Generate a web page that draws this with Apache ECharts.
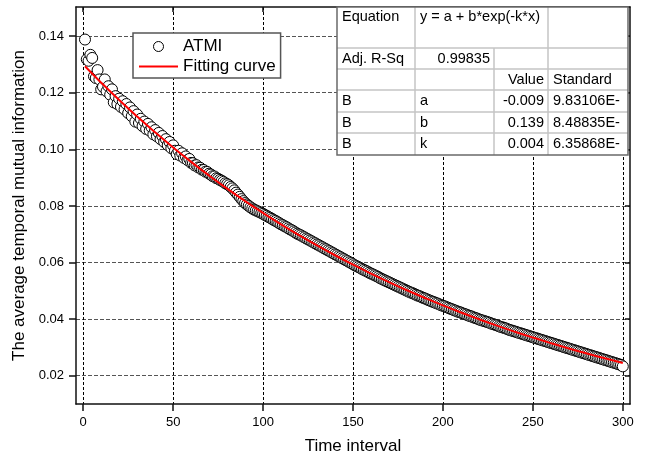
<!DOCTYPE html>
<html>
<head>
<meta charset="utf-8">
<script src="https://cdn.jsdelivr.net/npm/echarts@6/dist/echarts.min.js"></script>
<style>
  html, body { margin: 0; padding: 0; background: #fff; }
  #chart { width: 649px; height: 460px; }
</style>
</head>
<body>
<div id="chart"></div>
<script>
// Average temporal mutual information per time lag (lags 1..300)
const atmi = [
  0.1388,0.1318,0.1313,0.1334,0.1323,0.1258,0.1252,0.1280,0.1247,0.1212,
  0.1221,0.1247,0.1205,0.1223,0.1193,0.1212,0.1166,0.1188,0.1160,0.1179,
  0.1150,0.1170,0.1141,0.1160,0.1128,0.1148,0.1117,0.1135,0.1098,0.1123,
  0.1093,0.1108,0.1082,0.1098,0.1072,0.1090,0.1066,0.1078,0.1053,0.1068,
  0.1046,0.1058,0.1036,0.1047,0.1026,0.1036,0.1015,0.1026,0.1004,0.1014,
  0.0995,0.0983,0.0995,0.0978,0.0986,0.0970,0.0975,0.0962,0.0966,0.0952,
  0.0951,0.0943,0.0944,0.0936,0.0935,0.0928,0.0927,0.0921,0.0920,0.0914,
  0.0911,0.0905,0.0904,0.0898,0.0896,0.0892,0.0889,0.0885,0.0880,0.0877,
  0.0873,0.0867,0.0862,0.0855,0.0847,0.0840,0.0832,0.0824,0.0817,0.0810,
  0.0805,0.0800,0.0795,0.0791,0.0787,0.0784,0.0781,0.0778,0.0775,0.0772,
  0.0768,0.0765,0.0761,0.0758,0.0754,0.0750,0.0747,0.0743,0.0739,0.0735,
  0.0732,0.0728,0.0725,0.0721,0.0717,0.0714,0.0710,0.0706,0.0702,0.0699,
  0.0696,0.0692,0.0689,0.0685,0.0682,0.0678,0.0675,0.0671,0.0668,0.0664,
  0.0661,0.0657,0.0654,0.0650,0.0647,0.0643,0.0640,0.0636,0.0633,0.0629,
  0.0626,0.0622,0.0619,0.0615,0.0612,0.0608,0.0605,0.0601,0.0598,0.0594,
  0.0590,0.0587,0.0584,0.0581,0.0577,0.0574,0.0571,0.0568,0.0564,0.0561,
  0.0558,0.0555,0.0552,0.0549,0.0545,0.0542,0.0539,0.0536,0.0533,0.0530,
  0.0527,0.0524,0.0521,0.0518,0.0515,0.0512,0.0509,0.0506,0.0503,0.0500,
  0.0497,0.0494,0.0492,0.0489,0.0486,0.0483,0.0481,0.0478,0.0475,0.0473,
  0.0470,0.0467,0.0465,0.0462,0.0460,0.0457,0.0455,0.0452,0.0449,0.0447,
  0.0445,0.0442,0.0440,0.0437,0.0435,0.0432,0.0430,0.0427,0.0425,0.0423,
  0.0420,0.0418,0.0416,0.0413,0.0411,0.0409,0.0406,0.0404,0.0402,0.0399,
  0.0397,0.0395,0.0393,0.0391,0.0389,0.0387,0.0384,0.0382,0.0380,0.0378,
  0.0375,0.0373,0.0371,0.0369,0.0367,0.0364,0.0362,0.0360,0.0358,0.0356,
  0.0354,0.0352,0.0350,0.0348,0.0346,0.0344,0.0342,0.0340,0.0338,0.0336,
  0.0334,0.0332,0.0330,0.0328,0.0326,0.0324,0.0322,0.0320,0.0318,0.0316,
  0.0314,0.0312,0.0310,0.0308,0.0306,0.0304,0.0302,0.0300,0.0298,0.0296,
  0.0294,0.0292,0.0290,0.0288,0.0286,0.0284,0.0282,0.0280,0.0278,0.0276,
  0.0274,0.0272,0.0270,0.0268,0.0266,0.0264,0.0262,0.0260,0.0258,0.0256,
  0.0254,0.0252,0.0250,0.0248,0.0246,0.0244,0.0242,0.0240,0.0238,0.0233
];
const firstLag = 1;

// Fitted curve y = a + b*exp(-k*x), sampled along the lag axis
const fitX = [1, 10, 20, 30, 40, 50, 60, 70, 80, 90, 100, 110, 120, 130, 140, 150,
              160, 170, 180, 190, 200, 210, 220, 230, 240, 250, 260, 270, 280, 290, 300];
const fitY = [0.12936, 0.12356, 0.11742, 0.11157, 0.10599, 0.10066, 0.09558, 0.09074,
              0.08612, 0.08172, 0.07752, 0.07351, 0.06969, 0.06605, 0.06257, 0.05926,
              0.05610, 0.05309, 0.05021, 0.04747, 0.04485, 0.04236, 0.03998, 0.03771,
              0.03555, 0.03349, 0.03152, 0.02964, 0.02786, 0.02615, 0.02452];

// Axis ticks
const xTicks = [0, 50, 100, 150, 200, 250, 300];
const yTicks = [0.02, 0.04, 0.06, 0.08, 0.10, 0.12, 0.14];

// Fit report table
const tableRows = [
  ['Equation', 'y = a + b*exp(-k*x)', '', ''],
  ['Adj. R-Sq', '0.99835', '', ''],
  ['', '', 'Value', 'Standard'],
  ['B', 'a', '-0.009', '9.83106E-'],
  ['B', 'b', '0.139', '8.48835E-'],
  ['B', 'k', '0.004', '6.35868E-']
];

const FONT = '"Liberation Sans", Arial, sans-serif';

const scatterData = atmi.map((v, i) => [firstLag + i, v]);
const fitData = fitX.map((x, i) => [x, fitY[i]]);

// table layout
const colEdges = [337, 415, 494, 548, 628];
const rowEdges = [7, 48, 69, 90, 112, 133, 155];
const colAlign = [
  ['left', 'left', 'left', 'left'],
  ['left', 'right', 'right', 'left'],
  ['left', 'left', 'right', 'left'],
  ['left', 'left', 'right', 'left'],
  ['left', 'left', 'right', 'left'],
  ['left', 'left', 'right', 'left']
];

function buildTable() {
  const els = [];
  const L = colEdges[0], R = colEdges[colEdges.length - 1];
  const T = rowEdges[0], B = rowEdges[rowEdges.length - 1];
  els.push({ type: 'rect', shape: { x: L, y: T, width: R - L, height: B - T },
             style: { fill: '#fff', stroke: null }, z: 100 });
  // inner horizontal lines
  for (let r = 1; r < rowEdges.length - 1; r++) {
    els.push({ type: 'line', shape: { x1: L, y1: rowEdges[r], x2: R, y2: rowEdges[r] },
               style: { stroke: '#c4c4c4', lineWidth: 1.5 }, z: 101 });
  }
  // inner vertical lines (first row merges columns 2 and 3)
  for (let c = 1; c < colEdges.length - 1; c++) {
    const top = (c === 2) ? rowEdges[1] : T;
    els.push({ type: 'line', shape: { x1: colEdges[c], y1: top, x2: colEdges[c], y2: B },
               style: { stroke: '#c4c4c4', lineWidth: 1.5 }, z: 101 });
  }
  // outer frame
  els.push({ type: 'rect', shape: { x: L, y: T, width: R - L, height: B - T },
             style: { fill: null, stroke: '#6a6a6a', lineWidth: 1.5 }, z: 102 });
  // cell texts
  tableRows.forEach((row, r) => {
    row.forEach((txt, c) => {
      if (!txt) return;
      const al = colAlign[r][c];
      const x = al === 'left' ? colEdges[c] + 5 : colEdges[c + 1] - 4;
      const y = r === 0 ? T + 10 : (rowEdges[r] + rowEdges[r + 1]) / 2;
      els.push({ type: 'text', x: x, y: y, z: 103,
                 style: { text: txt, fill: '#000', font: '14.5px ' + FONT,
                          align: al, verticalAlign: 'middle' } });
    });
  });
  return els;
}

const chart = echarts.init(document.getElementById('chart'), null, { renderer: 'canvas' });

const axisLineStyle = { color: '#111', width: 1.5 };

chart.setOption({
  animation: false,
  backgroundColor: '#fff',
  textStyle: { fontFamily: FONT },
  grid: { left: 76, right: 19, top: 7, bottom: 55, containLabel: false },
  legend: {
    left: 133, top: 33, orient: 'vertical',
    padding: [5, 5, 3, 5], itemGap: 3, itemWidth: 39, itemHeight: 10,
    borderColor: '#555', borderWidth: 1.5, backgroundColor: '#fff',
    textStyle: { fontSize: 17, color: '#000', fontFamily: FONT },
    data: [
      { name: 'ATMI',
        itemStyle: { color: '#fff', borderColor: '#000', borderWidth: 1 } },
      { name: 'Fitting curve',
        itemStyle: { color: 'rgba(0,0,0,0)', borderColor: 'rgba(0,0,0,0)', borderWidth: 0 },
        lineStyle: { color: '#ff0000', width: 2 } }
    ]
  },
  xAxis: [
    {
      type: 'value', position: 'bottom', min: -4, max: 304,
      name: 'Time interval', nameLocation: 'middle', nameGap: 34,
      nameTextStyle: { fontSize: 17, color: '#000', fontFamily: FONT },
      axisLine: { show: true, onZero: false, lineStyle: axisLineStyle },
      axisTick: { show: true, inside: false, length: 7, customValues: xTicks,
                  lineStyle: { color: '#111', width: 1.5 } },
      axisLabel: { show: true, customValues: xTicks, fontSize: 13, color: '#000', margin: 12,
                   fontFamily: FONT },
      splitLine: { show: true, lineStyle: { color: '#000', type: [3, 2], width: 1 } }
    },
    {
      type: 'value', position: 'top', min: -4, max: 304,
      axisLine: { show: true, onZero: false, lineStyle: axisLineStyle },
      axisTick: { show: true, inside: true, length: 5, customValues: xTicks,
                  lineStyle: { color: '#111', width: 1.5 } },
      axisLabel: { show: false },
      splitLine: { show: false }
    }
  ],
  yAxis: [
    {
      type: 'value', position: 'left', min: 0.01, max: 0.1503, splitNumber: 7,
      name: 'The average temporal mutual information', nameLocation: 'middle', nameGap: 48,
      nameTextStyle: { fontSize: 17, color: '#000', fontFamily: FONT },
      axisLine: { show: true, onZero: false, lineStyle: axisLineStyle },
      axisTick: { show: true, inside: false, length: 7, customValues: yTicks,
                  lineStyle: { color: '#111', width: 1.5 } },
      axisLabel: { show: true, customValues: yTicks, fontSize: 13, color: '#000', margin: 12,
                   fontFamily: FONT, formatter: v => v.toFixed(2) },
      splitLine: { show: true, lineStyle: { color: '#555', type: [4, 2], width: 1 } }
    },
    {
      type: 'value', position: 'right', min: 0.01, max: 0.1503,
      axisLine: { show: true, onZero: false, lineStyle: axisLineStyle },
      axisTick: { show: true, inside: true, length: 5, customValues: yTicks,
                  lineStyle: { color: '#111', width: 1.5 } },
      axisLabel: { show: false },
      splitLine: { show: false }
    }
  ],
  series: [
    {
      name: 'ATMI', type: 'scatter', xAxisIndex: 0, yAxisIndex: 0,
      data: scatterData, symbol: 'circle', symbolSize: 11,
      itemStyle: { color: '#fff', borderColor: '#000', borderWidth: 1, opacity: 1 },
      z: 2
    },
    {
      name: 'Fitting curve', type: 'line', xAxisIndex: 0, yAxisIndex: 0,
      data: fitData, smooth: true, showSymbol: false, symbol: 'none',
      lineStyle: { color: '#ff0000', width: 2 }, itemStyle: { color: '#ff0000' },
      z: 3
    }
  ],
  graphic: buildTable()
});
</script>
</body>
</html>
